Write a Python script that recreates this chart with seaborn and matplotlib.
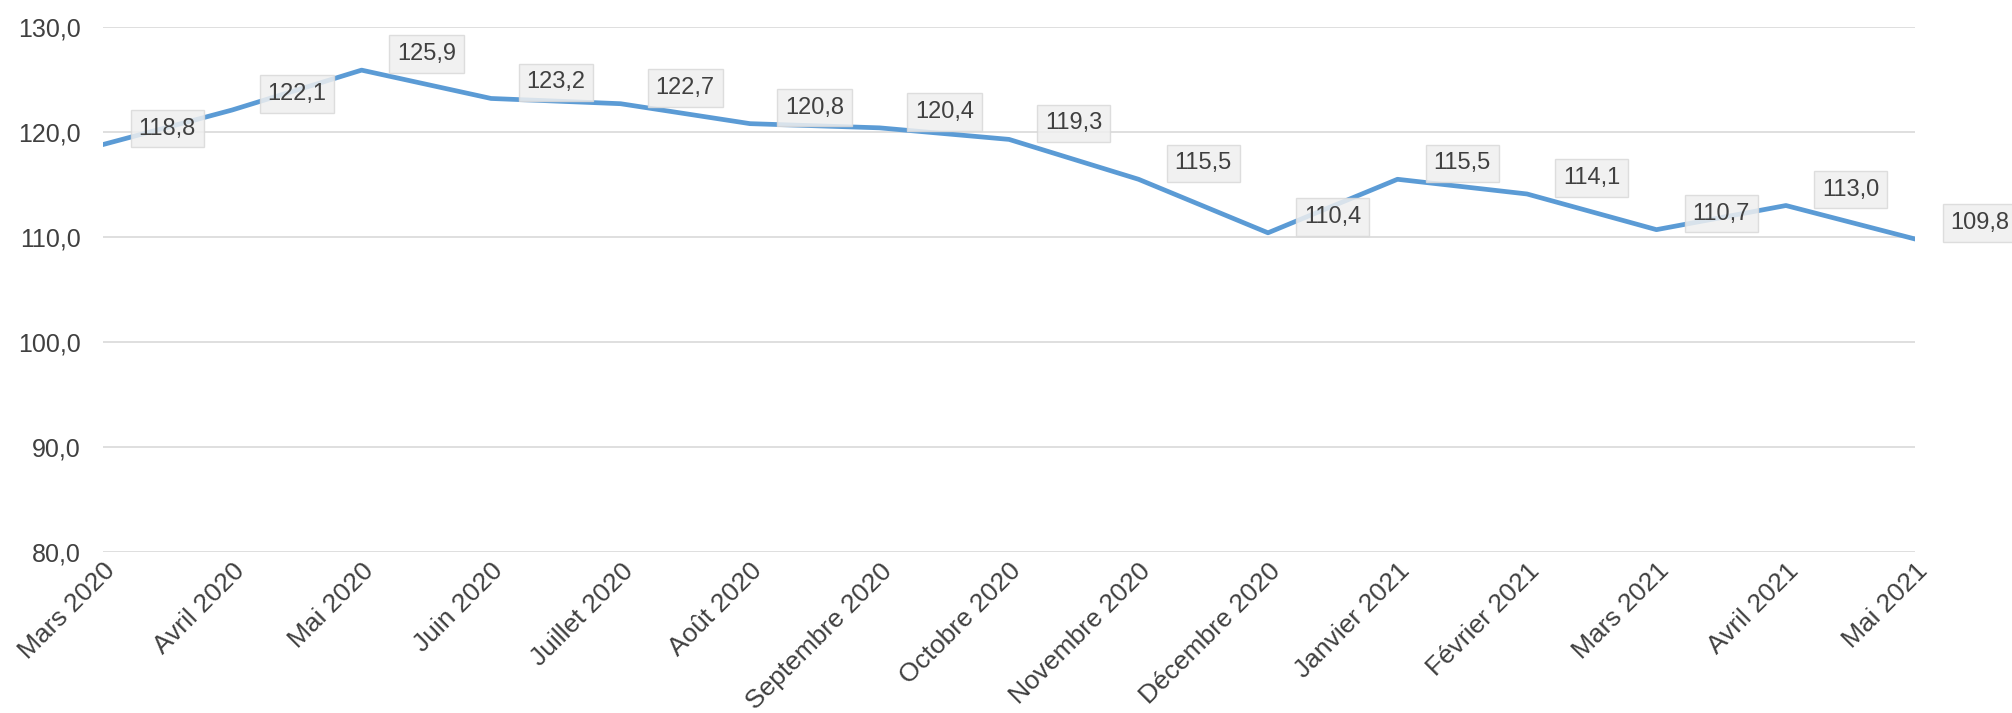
import pandas as pd
import matplotlib.pyplot as plt
import seaborn as sns
from matplotlib.ticker import FuncFormatter

# data
mois = ['Mars 2020', 'Avril 2020', 'Mai 2020', 'Juin 2020', 'Juillet 2020', 'Août 2020',
        'Septembre 2020', 'Octobre 2020', 'Novembre 2020', 'Décembre 2020', 'Janvier 2021',
        'Février 2021', 'Mars 2021', 'Avril 2021', 'Mai 2021']
valeurs = [118.8, 122.1, 125.9, 123.2, 122.7, 120.8, 120.4, 119.3, 115.5, 110.4,
           115.5, 114.1, 110.7, 113.0, 109.8]
yticks = [80, 90, 100, 110, 120, 130]

df = pd.DataFrame({'mois': mois, 'valeur': valeurs})
df['pos'] = range(len(df))

sns.set_style('white')
plt.rcParams['font.family'] = ['Liberation Sans', 'DejaVu Sans']
text_color = '#404040'

fig = plt.figure(figsize=(20.12, 7.13), dpi=100)
ax = fig.add_axes([0.051, 0.226, 0.901, 0.736])

sns.lineplot(data=df, x='pos', y='valeur', ax=ax, color='#5b9bd5', linewidth=3.4)

# data labels, offset half a step to the right like the original
for i, v in enumerate(valeurs):
    ax.annotate(f'{v:.1f}'.replace('.', ','), xy=(i + 0.5, v), xytext=(0, 11.5),
                textcoords='offset points', ha='center', va='center',
                fontsize=17, color=text_color, annotation_clip=False,
                bbox=dict(boxstyle='square,pad=0.33', fc='#efefef', ec='#d9d9d9', lw=1, alpha=0.85))

ax.set_xlim(0, len(mois) - 1)
ax.set_ylim(yticks[0], yticks[-1])
ax.set_yticks(yticks)
ax.yaxis.set_major_formatter(FuncFormatter(lambda y, _: f'{y:.1f}'.replace('.', ',')))
ax.set_xticks(df['pos'])
ax.set_xticklabels(mois, rotation=45, ha='right', va='top', rotation_mode='anchor')
ax.tick_params(axis='y', length=0, labelsize=18, labelcolor=text_color, pad=16)
ax.tick_params(axis='x', length=0, labelsize=19, labelcolor=text_color, pad=5)

ax.grid(axis='y', color='#d9d9d9', linewidth=1.2)
ax.set_axisbelow(True)
sns.despine(ax=ax, left=True, bottom=True)
ax.set_xlabel('')
ax.set_ylabel('')

fig.savefig('out.png', dpi=100)
